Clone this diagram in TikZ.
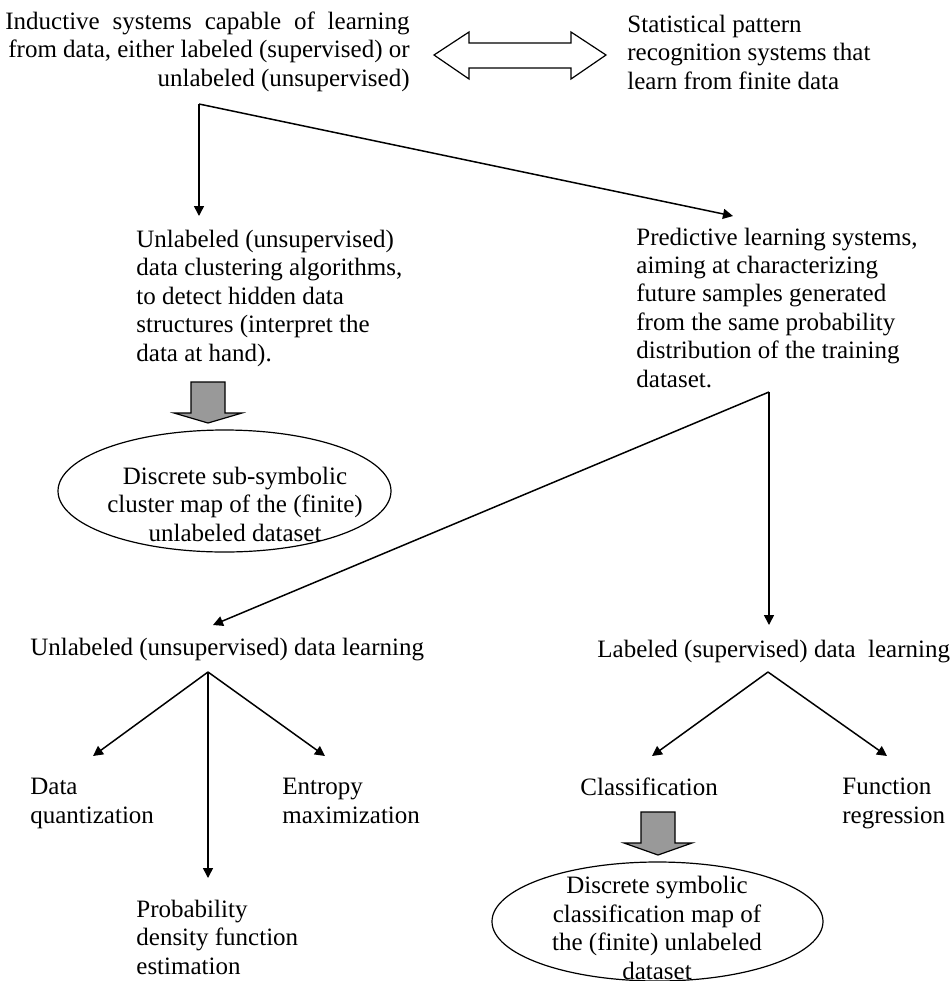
\documentclass[tikz,border=0pt]{standalone}
\usepackage{fontspec}
\usepackage{calc}
\setmainfont{Liberation Serif}
\usetikzlibrary{arrows.meta,shapes.geometric}
\definecolor{blockgray}{RGB}{153,153,153}
\begin{document}
\begin{tikzpicture}[x=0.5pt,y=-0.5pt,
  txt/.style={inner sep=0pt, font=\fontsize{12.5}{14.2}\selectfont},
  lt/.style={txt,align=left,anchor=base west},
  rt/.style={txt,align=right,anchor=base east},
  ct/.style={txt,align=center,anchor=base},
  arr/.style={line width=0.75pt,-{Triangle[length=5pt,width=5pt]}},
  ell/.style={draw,ellipse,line width=0.6pt,inner sep=0pt},
  block/.style={draw,fill=blockgray,line width=0.6pt,line join=miter},
  dbl/.style={draw,fill=white,line width=0.6pt,line join=miter}]
\useasboundingbox (0,0) rectangle (952,981);

% texts (anchored at the baseline of their last line)
\node[rt] (ind) at (410,86) {\makebox[\widthof{from data, either labeled (supervised) or}+1.5pt][s]{Inductive systems capable of learning}\\from data, either labeled (supervised) or\\unlabeled (unsupervised)};
\node[lt] (stat) at (627,89) {Statistical pattern\\recognition systems that\\learn from finite data};
\node[lt] (clus) at (136,361) {Unlabeled (unsupervised)\\data clustering algorithms,\\to detect hidden data\\structures (interpret the\\data at hand).};
\node[lt] (pred) at (636,387) {Predictive learning systems,\\aiming at characterizing\\future samples generated\\from the same probability\\distribution of the training\\dataset.};
\node[lt] (unl) at (30,655) {Unlabeled (unsupervised) data learning};
\node[lt] (lab) at (597,657) {Labeled (supervised) data\ \ learning};
\node[lt] (quant) at (30,823) {Data\\quantization};
\node[lt] (entr) at (282,823) {Entropy\\maximization};
\node[lt] (prob) at (136,974) {Probability\\density function\\estimation};
\node[lt] (clas) at (580,795) {Classification};
\node[lt] (func) at (842,823) {Function\\regression};

% ellipses
\node[ell, minimum width=166.5pt, minimum height=61pt] (e1) at (224.5,491) {};
\node[ct] (e1t) at (235,541) {Discrete sub-symbolic\\cluster map of the (finite)\\unlabeled dataset};
\node[ell, minimum width=165.5pt, minimum height=59.5pt] (e2) at (657.5,921.5) {};
\node[ct] (e2t) at (657,979) {Discrete symbolic\\classification map of\\the (finite) unlabeled\\dataset};

% double arrow
\draw[dbl] (434,55) -- (469,32) -- (469,43) -- (571,43) -- (571,32) -- (606,55)
  -- (571,79) -- (571,68) -- (469,68) -- (469,79) -- cycle;

% gray block arrows
\draw[block] (191,382) -- (225,382) -- (225,413) -- (242,413) -- (208,423) -- (174,413) -- (191,413) -- cycle;
\draw[block] (641,812) -- (675,812) -- (675,843) -- (692,843) -- (658,855) -- (624,843) -- (641,843) -- cycle;

% connector coordinates
\coordinate (f0) at (199,104);
\coordinate (f0a) at (199,216);
\coordinate (f0b) at (733,216);
\coordinate (f1) at (769,392);
\coordinate (f1a) at (213,625);
\coordinate (f1b) at (769,625);
\coordinate (f2) at (208,672);
\coordinate (f2a) at (93,756);
\coordinate (f2b) at (325,756);
\coordinate (f2c) at (208,878);
\coordinate (f3) at (768,672);
\coordinate (f3a) at (652,756);
\coordinate (f3b) at (887,756);

\draw[arr] (f0) -- (f0a);
\draw[arr] (f0) -- (f0b);
\draw[arr] (f1) -- (f1a);
\draw[arr] (f1) -- (f1b);
\draw[arr] (f2) -- (f2a);
\draw[arr] (f2) -- (f2b);
\draw[arr] (f2) -- (f2c);
\draw[arr] (f3) -- (f3a);
\draw[arr] (f3) -- (f3b);
\end{tikzpicture}
\end{document}
